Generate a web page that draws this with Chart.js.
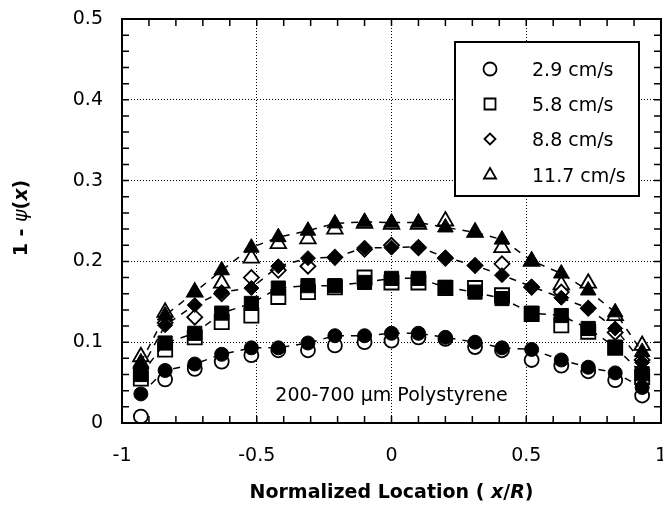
<!DOCTYPE html>
<html>
<head>
<meta charset="utf-8">
<script src="https://cdn.jsdelivr.net/npm/chart.js@4"></script>
<style>
  html, body { margin: 0; padding: 0; background: #fff; }
</style>
</head>
<body>
<canvas id="profileChart" width="663" height="507"></canvas>
<script>
// normalized location of the sample points
const xLocation = [-0.93, -0.84, -0.73, -0.63, -0.52, -0.42, -0.31, -0.21, -0.1, 0, 0.1, 0.2, 0.31, 0.41, 0.52, 0.63, 0.73, 0.83, 0.93];

const speedLabels = ['2.9 cm/s', '5.8 cm/s', '8.8 cm/s', '11.7 cm/s'];

// open symbols
const open29 = [0.008, 0.054, 0.067, 0.076, 0.084, 0.090, 0.090, 0.096, 0.100, 0.102, 0.106, 0.104, 0.094, 0.090, 0.078, 0.071, 0.064, 0.053, 0.034];
const open58 = [0.055, 0.091, 0.106, 0.125, 0.133, 0.156, 0.162, 0.168, 0.180, 0.174, 0.174, 0.167, 0.167, 0.158, 0.135, 0.121, 0.113, 0.093, 0.057];
const open88 = [0.068, 0.124, 0.131, 0.160, 0.180, 0.189, 0.194, 0.205, 0.215, 0.220, 0.217, 0.204, 0.195, 0.197, 0.168, 0.162, 0.142, 0.112, 0.078];
const open117 = [0.082, 0.137, 0.162, 0.173, 0.204, 0.222, 0.228, 0.240, 0.247, 0.246, 0.246, 0.250, 0.236, 0.217, 0.200, 0.171, 0.173, 0.133, 0.096];

// filled symbols (joined by dashed lines)
const filled29 = [0.036, 0.065, 0.073, 0.085, 0.093, 0.093, 0.099, 0.108, 0.108, 0.111, 0.111, 0.106, 0.100, 0.093, 0.091, 0.078, 0.069, 0.062, 0.044];
const filled58 = [0.060, 0.099, 0.111, 0.136, 0.148, 0.167, 0.170, 0.170, 0.174, 0.179, 0.179, 0.168, 0.162, 0.154, 0.136, 0.133, 0.117, 0.094, 0.061];
const filled88 = [0.066, 0.121, 0.146, 0.162, 0.167, 0.194, 0.204, 0.205, 0.217, 0.217, 0.218, 0.205, 0.195, 0.183, 0.169, 0.155, 0.142, 0.117, 0.075];
const filled117 = [0.075, 0.133, 0.162, 0.189, 0.217, 0.230, 0.238, 0.247, 0.249, 0.248, 0.248, 0.242, 0.236, 0.227, 0.201, 0.185, 0.164, 0.137, 0.088];

const xTicks = [-1, -0.5, 0, 0.5, 1];
const yTicks = [0, 0.1, 0.2, 0.3, 0.4, 0.5];

const noteText = '200-700 \u00B5m Polystyrene';

const FONT = '"DejaVu Sans", "Liberation Sans", sans-serif';
const markerStyle = ['circle', 'rect', 'rectRot', 'triangle'];
const markerRadius = { circle: 7, rect: 10, rectRot: 7.5, triangle: 9 };

function toPoints(values) {
    return xLocation.map(function (x, i) {
        return { x: x, y: values[i] };
    });
}

const openSeries = [open29, open58, open88, open117];
const filledSeries = [filled29, filled58, filled88, filled117];

let datasets = [];

// filled first so they sit on top of the open ones
filledSeries.forEach(function (values, i) {
    datasets.push({
        label: speedLabels[i] + ' (filled)',
        data: toPoints(values),
        showLine: true,
        borderColor: '#000',
        borderWidth: 1.5,
        borderDash: [7, 7],
        pointStyle: markerStyle[i],
        pointRadius: markerRadius[markerStyle[i]],
        pointBackgroundColor: '#000',
        pointBorderColor: '#000',
        pointBorderWidth: 1,
        isOpen: false
    });
});

openSeries.forEach(function (values, i) {
    datasets.push({
        label: speedLabels[i],
        data: toPoints(values),
        showLine: false,
        pointStyle: markerStyle[i],
        pointRadius: markerRadius[markerStyle[i]],
        pointBackgroundColor: '#fff',
        pointBorderColor: '#000',
        pointBorderWidth: 1.8,
        isOpen: true
    });
});

function drawMarker(ctx, style, x, y, r) {
    ctx.beginPath();
    if (style === 'circle') {
        ctx.arc(x, y, r, 0, Math.PI * 2);
    } else if (style === 'rect') {
        ctx.rect(x - r, y - r, 2 * r, 2 * r);
    } else if (style === 'rectRot') {
        ctx.moveTo(x - r, y);
        ctx.lineTo(x, y - r);
        ctx.lineTo(x + r, y);
        ctx.lineTo(x, y + r);
        ctx.closePath();
    } else {
        ctx.moveTo(x, y - r);
        ctx.lineTo(x + 0.866 * r, y + 0.5 * r);
        ctx.lineTo(x - 0.866 * r, y + 0.5 * r);
        ctx.closePath();
    }
    ctx.fillStyle = '#fff';
    ctx.fill();
    ctx.lineWidth = 1.8;
    ctx.strokeStyle = '#000';
    ctx.stroke();
}

function drawRich(ctx, parts, x, y) {
    let total = 0;
    let widths = parts.map(function (p) {
        ctx.font = p[1];
        let w = ctx.measureText(p[0]).width;
        total += w;
        return w;
    });
    let cx = x - total / 2;
    parts.forEach(function (p, i) {
        ctx.font = p[1];
        ctx.fillText(p[0], cx, y);
        cx += widths[i];
    });
}

const decorations = {
    id: 'decorations',
    afterDraw: function (chart) {
        const ctx = chart.ctx;
        const area = chart.chartArea;
        const xs = chart.scales.x;
        const ys = chart.scales.y;

        ctx.save();
        ctx.strokeStyle = '#000';
        ctx.fillStyle = '#000';

        // minor ticks pointing inward
        ctx.lineWidth = 1.5;
        ctx.beginPath();
        for (let i = 0; i <= 25; i++) {
            let py = ys.getPixelForValue(i * 0.02);
            ctx.moveTo(area.left, py);
            ctx.lineTo(area.left + 7, py);
            ctx.moveTo(area.right, py);
            ctx.lineTo(area.right - 7, py);
        }
        for (let i = -10; i <= 10; i++) {
            let px = xs.getPixelForValue(i * 0.1);
            ctx.moveTo(px, area.bottom);
            ctx.lineTo(px, area.bottom - 7);
            ctx.moveTo(px, area.top);
            ctx.lineTo(px, area.top + 7);
        }
        ctx.stroke();

        // plot frame
        ctx.lineWidth = 2;
        ctx.strokeRect(area.left, area.top, area.right - area.left, area.bottom - area.top);

        // legend box
        const box = { left: 455, top: 42, right: 639, bottom: 196 };
        ctx.fillStyle = '#fff';
        ctx.fillRect(box.left, box.top, box.right - box.left, box.bottom - box.top);
        ctx.lineWidth = 2;
        ctx.strokeRect(box.left, box.top, box.right - box.left, box.bottom - box.top);
        const legendSize = { circle: 6.5, rect: 5.5, rectRot: 5.5, triangle: 7 };
        const rowY = [69, 104, 139, 175];
        chart.data.datasets.forEach(function (ds) {
            if (!ds.isOpen) return;
            let i = speedLabels.indexOf(ds.label);
            drawMarker(ctx, ds.pointStyle, 490, rowY[i], legendSize[ds.pointStyle]);
            ctx.fillStyle = '#000';
            ctx.font = '19px ' + FONT;
            ctx.textAlign = 'left';
            ctx.textBaseline = 'alphabetic';
            ctx.fillText(ds.label, 532, rowY[i] + 7);
        });

        // note inside the plot
        ctx.fillStyle = '#000';
        ctx.textAlign = 'left';
        ctx.textBaseline = 'alphabetic';
        drawRich(ctx, [[noteText, '19px ' + FONT]], xs.getPixelForValue(0), 401);

        // axis titles
        const bold = 'bold 19px ' + FONT;
        const boldItalic = 'italic bold 19px ' + FONT;
        drawRich(ctx, [
            ['Normalized Location ( ', bold],
            ['x', boldItalic],
            ['/', bold],
            ['R', boldItalic],
            [')', bold]
        ], (area.left + area.right) / 2, 498);

        ctx.translate(27, 218);
        ctx.rotate(-Math.PI / 2);
        drawRich(ctx, [
            ['1 - ', bold],
            ['\u03C8', 'italic 19px ' + FONT],
            ['(', bold],
            ['x', boldItalic],
            [')', bold]
        ], 0, 0);
        ctx.restore();
    }
};

const tickFont = { family: FONT, size: 19 };

let profileCtx = document.getElementById('profileChart').getContext('2d');
let profileChart = new Chart(profileCtx, {
    type: 'scatter',
    data: { datasets: datasets },
    options: {
        responsive: false,
        animation: false,
        devicePixelRatio: 1,
        layout: {
            autoPadding: false,
            padding: { top: 19, right: 2, left: 0, bottom: 0 }
        },
        plugins: {
            legend: { display: false },
            tooltip: { enabled: false }
        },
        scales: {
            x: {
                type: 'linear',
                min: -1,
                max: 1,
                afterBuildTicks: function (scale) {
                    scale.ticks = xTicks.map(function (v) { return { value: v }; });
                },
                afterFit: function (scale) {
                    scale.height = 84;
                    scale.paddingLeft = 0;
                    scale.paddingRight = 0;
                },
                ticks: {
                    color: '#000',
                    font: tickFont,
                    padding: 2,
                    maxRotation: 0,
                    autoSkip: false,
                    callback: function (v) { return String(v); }
                },
                grid: {
                    color: '#000',
                    lineWidth: 1,
                    drawTicks: true,
                    tickLength: 20,
                    tickColor: 'rgba(0,0,0,0)'
                },
                border: { display: false, dash: [1, 2] }
            },
            y: {
                type: 'linear',
                min: 0,
                max: 0.5,
                afterBuildTicks: function (scale) {
                    scale.ticks = yTicks.map(function (v) { return { value: v }; });
                },
                afterFit: function (scale) {
                    scale.width = 122;
                    scale.paddingTop = 0;
                    scale.paddingBottom = 0;
                },
                ticks: {
                    color: '#000',
                    font: tickFont,
                    padding: 2,
                    autoSkip: false,
                    callback: function (v) { return String(Math.round(v * 10) / 10); }
                },
                grid: {
                    color: '#000',
                    lineWidth: 1,
                    drawTicks: true,
                    tickLength: 17,
                    tickColor: 'rgba(0,0,0,0)'
                },
                border: { display: false, dash: [1, 2] }
            }
        }
    },
    plugins: [decorations]
});
</script>
</body>
</html>
